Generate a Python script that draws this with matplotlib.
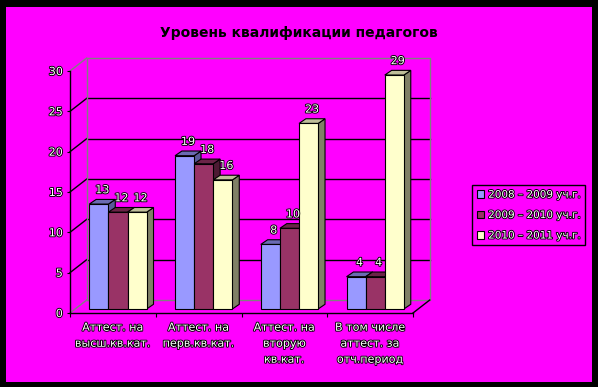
import matplotlib
matplotlib.use("Agg")
import matplotlib.pyplot as plt
import matplotlib.patheffects as pe
from matplotlib.patches import Patch, Polygon, Rectangle

# данные
categories = ['Аттест. на\nвысш.кв.кат.', 'Аттест. на\nперв.кв.кат.',
              'Аттест. на\nвторую\nкв.кат.', 'В том числе\nаттест. за\nотч.период']
series_names = ['2008 – 2009 уч.г.', '2009 – 2010 уч.г.', '2010 – 2011 уч.г.']
s2008 = [13, 19, 8, 4]
s2009 = [12, 18, 10, 4]
s2010 = [12, 16, 23, 29]
yticks = [0, 5, 10, 15, 20, 25, 30]

series = [s2008, s2009, s2010]
front_col = ['#9999FF', '#993366', '#FFFFCC']
top_col = ['#6B6BB3', '#6B2447', '#BFBF99']
side_col = ['#5A5A99', '#4D1A33', '#808066']

W, H = 598, 387
MAG = '#FF00FF'

# смещения псевдо-3D (в единицах данных)
DX, DY = 0.195, 1.61      # задняя стенка
BX, BY = 0.058, 0.5       # плоскость столбиков
ddx, ddy = 0.08, 0.58     # глубина столбика
bw = 0.223
gap = 0.167

txt_fx = [pe.withStroke(linewidth=1.3, foreground='black')]

fig = plt.figure(figsize=(W / 100, H / 100), dpi=100, facecolor='black')
fig.patches.append(Rectangle((6 / W, 5 / H), 586 / W, 375 / H, transform=fig.transFigure,
                             facecolor=MAG, edgecolor='none', zorder=-10))

ax = fig.add_axes([70 / W, (H - 313) / H, 343 / W, 242 / H])
ax.set_facecolor('none')
ax.set_xlim(-0.5, 3.5)
ax.set_ylim(0, 30)

# задняя стенка и сетка
x_l, x_r = -0.5 + DX, 3.5 + DX
for v in yticks[1:-1]:
    ax.plot([x_l, x_r], [v + DY, v + DY], color='black', lw=1, clip_on=False, zorder=1)
    ax.plot([-0.5, x_l], [v, v + DY], color='black', lw=1, clip_on=False, zorder=1)
ax.plot([x_l, x_r, x_r, x_l, x_l], [DY, DY, 30 + DY, 30 + DY, DY],
        color='#808080', lw=1, clip_on=False, zorder=1)
ax.plot([-0.5, x_l], [30, 30 + DY], color='#808080', lw=1, clip_on=False, zorder=1)
ax.plot([-0.5, x_l], [0, DY], color='#808080', lw=1, clip_on=False, zorder=1)
ax.plot([3.5, x_r], [0, DY], color='black', lw=1, clip_on=False, zorder=1)

# столбики
for i in range(len(categories)):
    for j, vals in enumerate(series):
        v = vals[i]
        x0 = i - 0.5 + BX + gap + j * bw
        top = v + BY
        z = 3 + i * 0.1 + j * 0.03
        ax.add_patch(Polygon([(x0 + bw, BY), (x0 + bw + ddx, BY + ddy), (x0 + bw + ddx, top + ddy),
                              (x0 + bw, top)], closed=True, facecolor=side_col[j],
                             edgecolor='black', lw=0.8, zorder=z, clip_on=False))
        ax.add_patch(Polygon([(x0, top), (x0 + bw, top), (x0 + bw + ddx, top + ddy),
                              (x0 + ddx, top + ddy)], closed=True, facecolor=top_col[j],
                             edgecolor='black', lw=0.8, zorder=z + 0.005, clip_on=False))
        ax.bar(x0, v, width=bw, bottom=BY, align='edge', color=front_col[j],
               edgecolor='black', lw=0.8, zorder=z + 0.01, clip_on=False)
        ax.annotate(str(v), (x0 + bw / 2 + ddx / 2, top + ddy), xytext=(0, 3),
                    textcoords='offset points', ha='center', va='bottom', fontsize=8,
                    color='white', path_effects=txt_fx, zorder=10, annotation_clip=False)

# оси
for s in ['top', 'right']:
    ax.spines[s].set_visible(False)
for s in ['left', 'bottom']:
    ax.spines[s].set_color('black')
    ax.spines[s].set_linewidth(1)
ax.set_yticks(yticks)
ax.tick_params(axis='y', direction='out', length=2.2, width=0.8, pad=3, labelsize=8,
               labelcolor='white')
for t in ax.get_yticklabels():
    t.set_path_effects(txt_fx)
ax.set_xticks(range(len(categories)))
ax.set_xticklabels(categories, linespacing=1.75)
ax.set_xticks([k - 0.5 for k in range(len(categories) + 1)], minor=True)
ax.tick_params(axis='x', which='major', length=0, pad=7, labelsize=8, labelcolor='white')
ax.tick_params(axis='x', which='minor', direction='out', length=3, width=0.8)
for t in ax.get_xticklabels():
    t.set_path_effects(txt_fx)

fig.text(299 / W, 1 - 33 / H, 'Уровень квалификации педагогов', ha='center', va='center',
         fontsize=10, fontweight='bold', color='black')

handles = [Patch(facecolor=c, edgecolor='black', lw=0.8) for c in front_col]
leg = fig.legend(handles, series_names, loc='upper left',
                 bbox_to_anchor=(472 / W, 1 - 185 / H), frameon=True, fancybox=False,
                 facecolor=MAG, edgecolor='black', framealpha=1, fontsize=7.5,
                 handlelength=0.7, handleheight=0.7, handletextpad=0.4,
                 labelspacing=1.0, borderpad=0.45, borderaxespad=0)
leg.get_frame().set_linewidth(1)
for t in leg.get_texts():
    t.set_color('white')
    t.set_path_effects(txt_fx)

fig.savefig('out.png', dpi=100, facecolor=fig.get_facecolor())
